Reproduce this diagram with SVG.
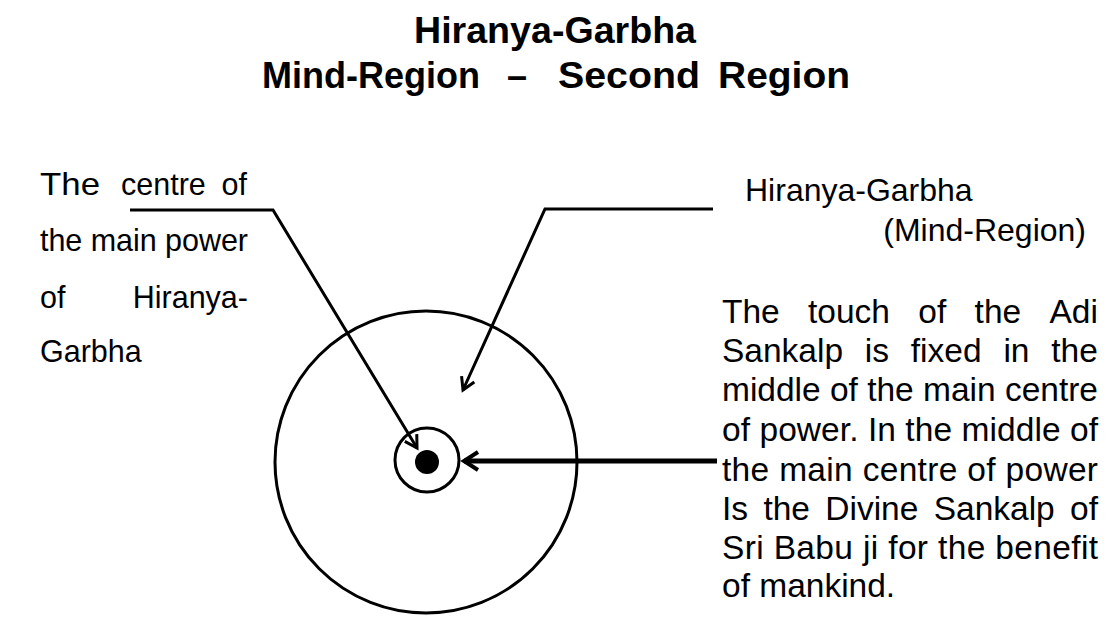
<svg xmlns="http://www.w3.org/2000/svg" width="1106" height="624" viewBox="0 0 1106 624">
<style>
text{font-family:"Liberation Sans",Arial,Helvetica,sans-serif;fill:#000}
.title{font-weight:bold;font-size:36px}
.lbl{font-size:30.5px}
.para{font-size:33.5px}
.rl{font-size:32px}
.ln{fill:none;stroke:#000;stroke-width:3;stroke-linejoin:miter}
.thick{fill:none;stroke:#000;stroke-width:5}
</style>
<defs>
<marker id="arr" markerUnits="userSpaceOnUse" markerWidth="20" markerHeight="20" refX="15" refY="9" orient="auto">
<path d="M3,2 L15,9 L3,16" fill="none" stroke="#000" stroke-width="3"/>
</marker>
<marker id="arrBig" markerUnits="userSpaceOnUse" markerWidth="24" markerHeight="24" refX="18" refY="11" orient="auto">
<path d="M4,2 L18,11 L4,20" fill="none" stroke="#000" stroke-width="4"/>
</marker>
</defs>
<rect width="1106" height="624" fill="#fff"/>
<g id="title">
<text class="title" x="555" y="43" text-anchor="middle" textLength="282" lengthAdjust="spacingAndGlyphs">Hiranya-Garbha</text>
<text class="title" x="262" y="88" textLength="218" lengthAdjust="spacingAndGlyphs">Mind-Region</text>
<text class="title" x="507" y="88">–</text>
<text class="title" x="558" y="88" textLength="142" lengthAdjust="spacingAndGlyphs">Second</text>
<text class="title" x="718" y="88" textLength="132" lengthAdjust="spacingAndGlyphs">Region</text>
</g>
<g id="node-centre-label">
<text class="lbl" y="195"><tspan x="40" textLength="60" lengthAdjust="spacingAndGlyphs">The</tspan><tspan x="121">centre</tspan><tspan x="247" text-anchor="end">of</tspan></text>
<text class="lbl" x="40" y="251" textLength="208" lengthAdjust="spacing">the main power</text>
<text class="lbl" y="308"><tspan x="40">of</tspan><tspan x="248" text-anchor="end">Hiranya-</tspan></text>
<text class="lbl" x="40" y="362">Garbha</text>
</g>
<g id="node-mind-region-label">
<text class="rl" x="745" y="201">Hiranya-Garbha</text>
<text class="rl" x="1086" y="241" text-anchor="end">(Mind-Region)</text>
</g>
<g id="node-touch-label">
<text class="para" y="323"><tspan x="722">The</tspan><tspan x="808">touch</tspan><tspan x="918.3">of</tspan><tspan x="974.6">the</tspan><tspan x="1049.5">Adi</tspan></text>
<text class="para" y="362"><tspan x="722">Sankalp</tspan><tspan x="864.8">is</tspan><tspan x="910.8">fixed</tspan><tspan x="1003.4">in</tspan><tspan x="1051.3">the</tspan></text>
<text class="para" x="722" y="401" textLength="376" lengthAdjust="spacing">middle of the main centre</text>
<text class="para" x="722" y="441" textLength="376" lengthAdjust="spacing">of power. In the middle of</text>
<text class="para" x="722" y="481" textLength="376" lengthAdjust="spacing">the main centre of power</text>
<text class="para" y="520"><tspan x="722">Is</tspan><tspan x="763.4">the</tspan><tspan x="825.3">Divine</tspan><tspan x="933.7">Sankalp</tspan><tspan x="1070">of</tspan></text>
<text class="para" x="722" y="559" textLength="376" lengthAdjust="spacing">Sri Babu ji for the benefit</text>
<text class="para" x="722" y="597">of mankind.</text>
</g>
<g id="node-mind-region">
<circle cx="426" cy="462" r="151" class="ln"/>
</g>
<g id="node-main-centre">
<circle cx="427" cy="460" r="32" class="ln"/>
<circle cx="427" cy="462" r="12" fill="#000"/>
</g>
<g id="connectors">
<polyline class="ln" points="130,210 273,210 417,448" marker-end="url(#arr)"/>
<polyline class="ln" points="713,209 545,209 463,390" marker-end="url(#arr)"/>
<line class="thick" x1="717" y1="461" x2="464" y2="461" marker-end="url(#arrBig)"/>
</g>
</svg>
